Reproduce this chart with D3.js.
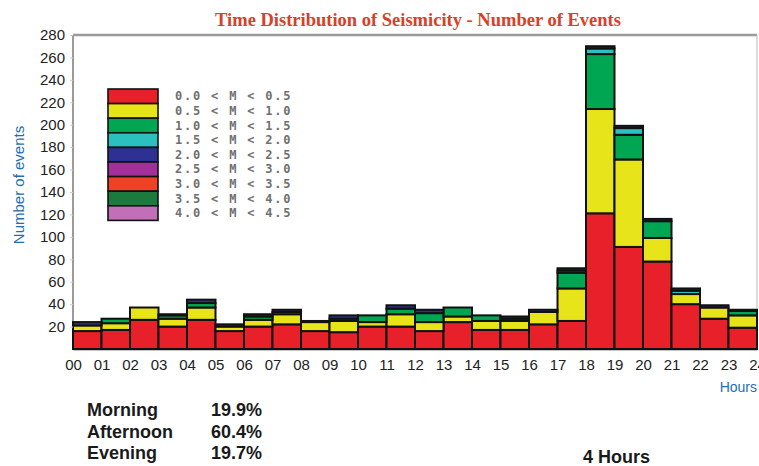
<!DOCTYPE html>
<html>
<head>
<meta charset="utf-8">
<script src="https://cdn.jsdelivr.net/npm/d3@7"></script>
<style>
  body { margin: 0; background: #fff; }
  svg { display: block; }
</style>
</head>
<body>
<div id="chart"></div>
<script>
// hours on the x axis (tick labels at the bar edges)
var hourLabels = ["00","01","02","03","04","05","06","07","08","09","10","11","12",
  "13","14","15","16","17","18","19","20","21","22","23","24"];
var yTicks = [20,40,60,80,100,120,140,160,180,200,220,240,260,280];

// magnitude classes, legend text and colours
var classNames = ["0.0 < M < 0.5","0.5 < M < 1.0","1.0 < M < 1.5","1.5 < M < 2.0","2.0 < M < 2.5",
  "2.5 < M < 3.0","3.0 < M < 3.5","3.5 < M < 4.0","4.0 < M < 4.5"];
var classColors = ["#e8202a","#e8e41a","#00a651","#2bbfbf","#2e3192","#a3309a","#ef4123","#1b7a3e","#c26fb8"];

// number of events per hour, one array per magnitude class
var m00 = [16,17,26,20,26,16,20,22,16,15,20,20,16,24,17,17,22,25,121,91,78,40,27,19];
var m05 = [5,6,11,7,11,4,6,9,8,10,4,11,8,5,8,8,11,29,93,78,21,9,10,11];
var m10 = [0,4,0,3,4,0,3,2,0,2,6,5,8,8,5,2,0,14,49,22,15,0,0,4];
var m15 = [0,0,0,0,0,0,0,0,0,0,0,0,0,0,0,0,0,2,5,6,0,3,0,0];
var m20 = [3,0,0,1,3,2,2,2,1,3,0,3,3,0,0,2,2,2,2,2,2,2,2,1];
var m25 = [0,0,0,0,0,0,0,0,0,0,0,0,0,0,0,0,0,0,0,0,0,0,0,0];
var m30 = [0,0,0,0,0,0,0,0,0,0,0,0,0,0,0,0,0,0,0,0,0,0,0,0];
var m35 = [0,0,0,0,0,0,0,0,0,0,0,0,0,0,0,0,0,0,0,0,0,0,0,0];
var m40 = [0,0,0,0,0,0,0,0,0,0,0,0,0,0,0,0,0,0,0,0,0,0,0,0];

var summaryNames = ["Morning","Afternoon","Evening"];
var summaryValues = ["19.9%","60.4%","19.7%"];

var W = 759, H = 466;
var plotLeft = 73, plotRight = 757, plotTop = 35, plotBottom = 349;

var svg = d3.select("#chart").append("svg").attr("width", W).attr("height", H);

// build rows for stacking
var series = [m00,m05,m10,m15,m20,m25,m30,m35,m40];
var data = [];
for (var i = 0; i < 24; i++) {
  var row = { hour: i };
  for (var j = 0; j < classNames.length; j++) row[classNames[j]] = series[j][i];
  data.push(row);
}
var stacked = d3.stack().keys(classNames)(data);

var x = d3.scaleLinear().domain([0, 24]).range([plotLeft, plotRight]);
var y = d3.scaleLinear().domain([0, 280]).range([plotBottom, plotTop]);
var color = d3.scaleOrdinal().domain(classNames).range(classColors);

// title
svg.append("text")
  .attr("x", 418).attr("y", 26)
  .attr("text-anchor", "middle")
  .style("font-family", "'Liberation Serif', 'Times New Roman', serif")
  .style("font-weight", "bold").style("font-size", "18.5px")
  .attr("fill", "#d8402a")
  .text("Time Distribution of Seismicity - Number of Events");

// frame
svg.append("line").attr("x1", plotLeft).attr("x2", plotRight).attr("y1", plotTop).attr("y2", plotTop)
  .attr("stroke", "#9a9a9a").attr("stroke-width", 2.5);
svg.append("line").attr("x1", plotRight).attr("x2", plotRight).attr("y1", plotTop).attr("y2", plotBottom)
  .attr("stroke", "#bbb").attr("stroke-width", 1);
svg.append("line").attr("x1", plotLeft).attr("x2", plotLeft).attr("y1", plotTop).attr("y2", plotBottom + 1)
  .attr("stroke", "#9a9a9a").attr("stroke-width", 2);

// bars
svg.append("g").selectAll("g")
  .data(stacked)
  .join("g")
  .attr("fill", function (d) { return color(d.key); })
  .selectAll("rect")
  .data(function (d) { return d.filter(function (s) { return s[1] > s[0]; }); })
  .join("rect")
  .attr("x", function (d) { return x(d.data.hour); })
  .attr("width", function (d) { return x(d.data.hour + 1) - x(d.data.hour); })
  .attr("y", function (d) { return y(d[1]); })
  .attr("height", function (d) { return y(d[0]) - y(d[1]); })
  .attr("stroke", "#111").attr("stroke-width", 2);

// y axis
var yAxisG = svg.append("g").attr("transform", "translate(" + plotLeft + ",0)")
  .call(d3.axisLeft(y).tickValues(yTicks).tickSize(3).tickPadding(5));
yAxisG.select(".domain").remove();
yAxisG.selectAll(".tick line").attr("stroke", "#ccc");
yAxisG.selectAll("text")
  .style("font-family", "'Liberation Sans', Arial, sans-serif")
  .style("font-size", "15px").attr("fill", "#222");

svg.append("text")
  .attr("transform", "translate(24,185) rotate(-90)")
  .attr("text-anchor", "middle")
  .style("font-family", "'Liberation Sans', Arial, sans-serif")
  .style("font-size", "15px").attr("fill", "#1f6db3")
  .text("Number of events");

// x axis labels
var xAxisG = svg.append("g").attr("transform", "translate(0," + plotBottom + ")")
  .call(d3.axisBottom(x).tickValues(d3.range(25)).tickSize(0).tickPadding(10)
    .tickFormat(function (d) { return hourLabels[d]; }));
xAxisG.select(".domain").attr("stroke", "#111").attr("stroke-width", 1.5);
xAxisG.selectAll("text")
  .style("font-family", "'Liberation Sans', Arial, sans-serif")
  .style("font-size", "15px").attr("fill", "#222");

svg.append("text")
  .attr("x", 757).attr("y", 392).attr("text-anchor", "end")
  .style("font-family", "'Liberation Sans', Arial, sans-serif")
  .style("font-size", "14px").attr("fill", "#1f6db3")
  .text("Hours");

// legend
var legend = svg.append("g");
var rowH = 14.6;
legend.selectAll("rect")
  .data(classNames)
  .join("rect")
  .attr("x", 108).attr("y", function (d, i) { return 89 + i * rowH; })
  .attr("width", 50).attr("height", rowH)
  .attr("fill", function (d) { return color(d); })
  .attr("stroke", "#111").attr("stroke-width", 1.6);
legend.selectAll("text")
  .data(classNames)
  .join("text")
  .attr("x", 175).attr("y", function (d, i) { return 89 + i * rowH + rowH / 2 + 4; })
  .style("font-family", "'DejaVu Sans Mono', monospace")
  .style("font-size", "12px").style("font-weight", "bold")
  .style("letter-spacing", "1.8px")
  .attr("fill", "#707070")
  .text(function (d) { return d; });

// summary text below the chart
var summary = svg.append("g")
  .style("font-family", "'Liberation Sans', Arial, sans-serif")
  .style("font-size", "18px").style("font-weight", "bold").attr("fill", "#1a1a1a");
summary.selectAll("text.name")
  .data(summaryNames)
  .join("text").attr("class", "name")
  .attr("x", 87).attr("y", function (d, i) { return 416 + i * 21.5; })
  .text(function (d) { return d; });
summary.selectAll("text.val")
  .data(summaryValues)
  .join("text").attr("class", "val")
  .attr("x", 211).attr("y", function (d, i) { return 416 + i * 21.5; })
  .text(function (d) { return d; });
summary.append("text").attr("x", 583).attr("y", 463).text("4 Hours");
</script>
</body>
</html>
